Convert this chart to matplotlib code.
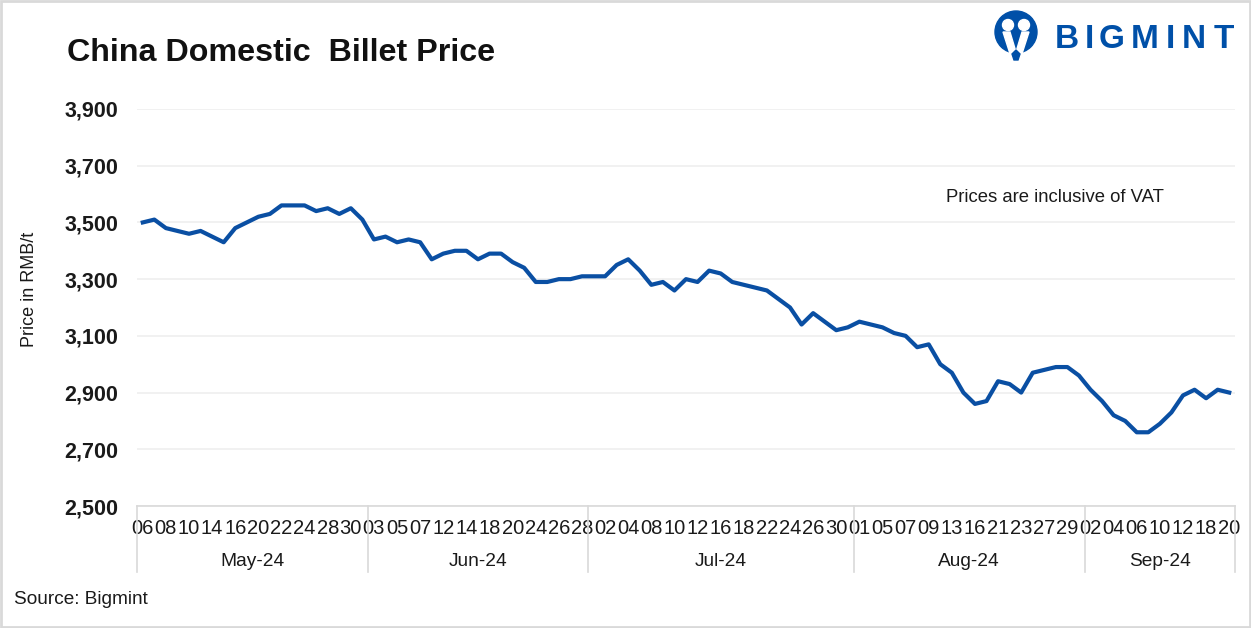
import numpy as np
import matplotlib
matplotlib.use('Agg')
import matplotlib.pyplot as plt
from matplotlib.patches import Rectangle, Circle, Polygon
import matplotlib.transforms as mtransforms

plt.rcParams['font.family'] = ['Liberation Sans', 'DejaVu Sans']

# trading days per month
months = ['May-24', 'Jun-24', 'Jul-24', 'Aug-24', 'Sep-24']
may_days = [6, 7, 8, 9, 10, 13, 14, 15, 16, 17, 20, 21, 22, 23, 24, 27, 28, 29, 30, 31]
jun_days = [3, 4, 5, 6, 7, 11, 12, 13, 14, 17, 18, 19, 20, 21, 24, 25, 26, 27, 28]
jul_days = [1, 2, 3, 4, 5, 8, 9, 10, 11, 12, 15, 16, 17, 18, 19, 22, 23, 24, 25, 26, 29, 30, 31]
aug_days = [1, 2, 5, 6, 7, 8, 9, 12, 13, 15, 16, 20, 21, 22, 23, 26, 27, 28, 29, 30]
sep_days = [2, 3, 4, 5, 6, 9, 10, 11, 12, 13, 18, 19, 20]

# billet price, RMB/t
may_price = [3500, 3510, 3480, 3470, 3460, 3470, 3450, 3430, 3480, 3500,
             3520, 3530, 3560, 3560, 3560, 3540, 3550, 3530, 3550, 3510]
jun_price = [3440, 3450, 3430, 3440, 3430, 3370, 3390, 3400, 3400, 3370,
             3390, 3390, 3360, 3340, 3290, 3290, 3300, 3300, 3310]
jul_price = [3310, 3310, 3350, 3370, 3330, 3280, 3290, 3260, 3300, 3290, 3330, 3320,
             3290, 3280, 3270, 3260, 3230, 3200, 3140, 3180, 3150, 3120, 3130]
aug_price = [3150, 3140, 3130, 3110, 3100, 3060, 3070, 3000, 2970, 2900,
             2860, 2870, 2940, 2930, 2900, 2970, 2980, 2990, 2990, 2960]
sep_price = [2910, 2870, 2820, 2800, 2760, 2760, 2790, 2830, 2890, 2910, 2880, 2910, 2900]

y_ticks = [2500, 2700, 2900, 3100, 3300, 3500, 3700, 3900]

all_days = may_days + jun_days + jul_days + aug_days + sep_days
prices = may_price + jun_price + jul_price + aug_price + sep_price
month_sizes = [len(may_days), len(jun_days), len(jul_days), len(aug_days), len(sep_days)]
n = len(prices)
x = np.arange(n)

blue = '#0a4fa3'
grey = '#d9d9d9'

fig = plt.figure(figsize=(12.51, 6.28), dpi=100)
ax = fig.add_axes([137/1251, 1-506/628, (1235-137)/1251, (506-109)/628])

ax.plot(x, prices, color=blue, lw=3, solid_joinstyle='round', zorder=3)

ax.set_xlim(-0.5, n-0.5)
ax.set_ylim(2500, 3900)
ax.set_yticks(y_ticks)
ax.set_yticklabels(['{:,}'.format(v) for v in y_ticks], fontsize=15.5, fontweight='bold', color='#1a1a1a')
ax.yaxis.grid(True, color='#efefef', lw=1.2)
ax.set_axisbelow(True)
ax.tick_params(axis='y', length=0, pad=13.5)

ticks = x[::2]
ax.set_xticks(ticks)
ax.set_xticklabels(['%02d' % all_days[i] for i in ticks], fontsize=14.5, color='#1a1a1a')
ax.tick_params(axis='x', length=0, pad=9)

for s in ['top', 'right', 'left']:
    ax.spines[s].set_visible(False)
ax.spines['bottom'].set_color(grey)
ax.spines['bottom'].set_linewidth(1.2)

# month grouping below tick labels
trans = mtransforms.blended_transform_factory(ax.transData, ax.transAxes)
edges = np.concatenate([[0], np.cumsum(month_sizes)]) - 0.5
for e in edges:
    ax.plot([e, e], [0, -0.166], color=grey, lw=1.2, transform=trans, clip_on=False)
for i, m in enumerate(months):
    ax.text((edges[i]+edges[i+1])/2, -0.139, m, transform=trans, ha='center', va='center',
            fontsize=13.8, color='#1a1a1a')

ax.set_ylabel('Price in RMB/t', fontsize=13, color='#1a1a1a')
ax.yaxis.set_label_coords(-0.0900, 0.545)

ax.text(0.7368, 0.778, 'Prices are inclusive of VAT', transform=ax.transAxes, fontsize=13.3,
        color='#1a1a1a', va='center')

fig.text(67/1251, 1-53/628, 'China Domestic  Billet Price', fontsize=23.2, fontweight='bold',
         va='center', ha='left', color='#111111')
fig.text(14/1251, 1-600/628, 'Source: Bigmint', fontsize=13.7, va='center', ha='left', color='#1a1a1a')

# logo
logo_ax = fig.add_axes([990/1251, 1-62/628, 54/1251, 54/628])
logo_ax.set_xlim(0, 54)
logo_ax.set_ylim(0, 54)
logo_ax.axis('off')
logo_ax.add_patch(Circle((26, 30), 21, color='#0050a8'))
logo_ax.add_patch(Circle((18, 37), 5.5, color='white'))
logo_ax.add_patch(Circle((34, 37), 5.5, color='white'))
logo_ax.add_patch(Polygon([[13, 30], [20, 30], [26, 10], [32, 30], [39, 30], [30, 2], [22, 2]],
                          closed=True, color='white'))
logo_ax.add_patch(Polygon([[22, 8], [26, 12], [30, 8], [28, 2], [24, 2]], closed=True, color='#0050a8'))
logo_ax.set_aspect('auto')

letters = ['B', 'I', 'G', 'M', 'I', 'N', 'T']
letter_x = [1067, 1089, 1112, 1145, 1170, 1194, 1224]
for ch, lx in zip(letters, letter_x):
    fig.text(lx/1251, 1-40/628, ch, fontsize=24, fontweight='bold', color='#0050a8',
             ha='center', va='center')

fig.patches.append(Rectangle((0.001, 0.002), 0.998, 0.996, transform=fig.transFigure,
                             fill=False, edgecolor=grey, lw=2))

plt.savefig('out.png', dpi=100)
